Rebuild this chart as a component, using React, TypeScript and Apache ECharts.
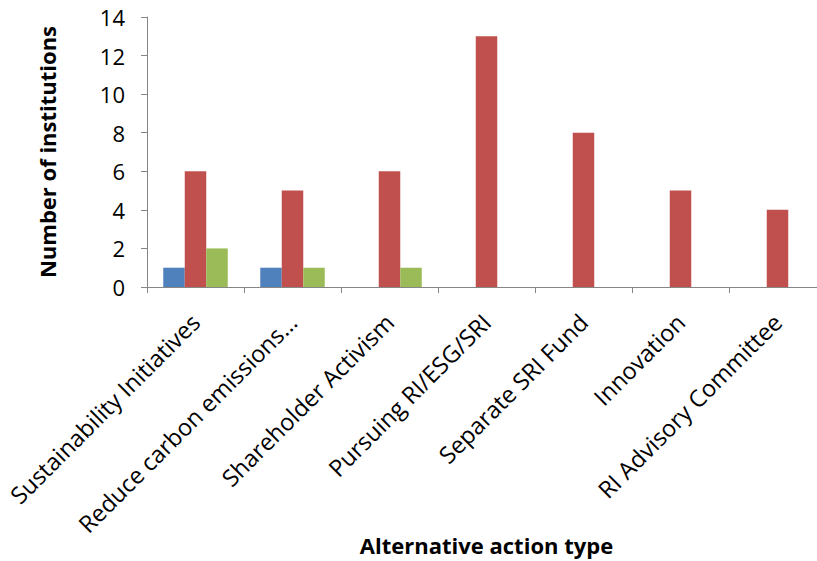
import React, { useEffect, useRef } from "react";
import * as echarts from "echarts";

const categories = [
  "Sustainability Initiatives",
  "Reduce carbon emissions…",
  "Shareholder Activism",
  "Pursuing RI/ESG/SRI",
  "Separate SRI Fund",
  "Innovation",
  "RI Advisory Committee",
];
const blueValues = [1, 1, 0, 0, 0, 0, 0];
const redValues = [6, 5, 6, 13, 8, 5, 4];
const greenValues = [2, 1, 1, 0, 0, 0, 0];
const yTicks = { min: 0, max: 14, interval: 2 };

const FONT = "'Open Sans', sans-serif";
const AXIS_GREY = "#868686";

export default function App() {
  const ref = useRef<HTMLDivElement>(null);

  useEffect(() => {
    document.body.style.margin = "0";
    const chart = echarts.init(ref.current!, undefined, { renderer: "svg" });
    const barSeries = (name: string, data: number[], color: string) => ({
      name,
      type: "bar" as const,
      data,
      barGap: "0%",
      barCategoryGap: "33.5%",
      itemStyle: { color },
    });
    chart.setOption({
      animation: false,
      backgroundColor: "#ffffff",
      textStyle: { fontFamily: FONT },
      grid: {
        left: 147,
        top: 17,
        width: 679,
        height: 270,
        containLabel: false,
        outerBoundsMode: "none",
      },
      xAxis: {
        type: "category",
        data: categories,
        name: "Alternative action type",
        nameLocation: "middle",
        nameGap: 246,
        nameMoveOverlap: false,
        nameTextStyle: {
          fontFamily: FONT,
          fontWeight: "bold",
          fontSize: 22,
          lineHeight: 24,
          color: "#000",
        },
        axisLine: { show: true, lineStyle: { color: AXIS_GREY, width: 1 } },
        axisTick: { show: true, length: 6, lineStyle: { color: AXIS_GREY } },
        axisLabel: {
          rotate: 45,
          interval: 0,
          margin: 31,
          fontFamily: FONT,
          fontSize: 23.5,
          color: "#000",
        },
        splitLine: { show: false },
      },
      yAxis: {
        type: "value",
        min: yTicks.min,
        max: yTicks.max,
        interval: yTicks.interval,
        name: "Number of institutions",
        nameLocation: "middle",
        nameGap: 89,
        nameRotate: 90,
        nameMoveOverlap: false,
        nameTextStyle: { fontFamily: FONT, fontWeight: "bold", fontSize: 22, color: "#000" },
        axisLine: { show: true, lineStyle: { color: AXIS_GREY, width: 1 } },
        axisTick: { show: true, length: 6, lineStyle: { color: AXIS_GREY } },
        axisLabel: { fontFamily: FONT, fontSize: 22, color: "#000", margin: 22 },
        splitLine: { show: false },
      },
      series: [
        barSeries("Series 1", blueValues, "#4F81BD"),
        barSeries("Series 2", redValues, "#C0504D"),
        barSeries("Series 3", greenValues, "#9BBB59"),
      ],
    });
    return () => chart.dispose();
  }, []);

  return <div ref={ref} style={{ width: 817, height: 561 }} />;
}
